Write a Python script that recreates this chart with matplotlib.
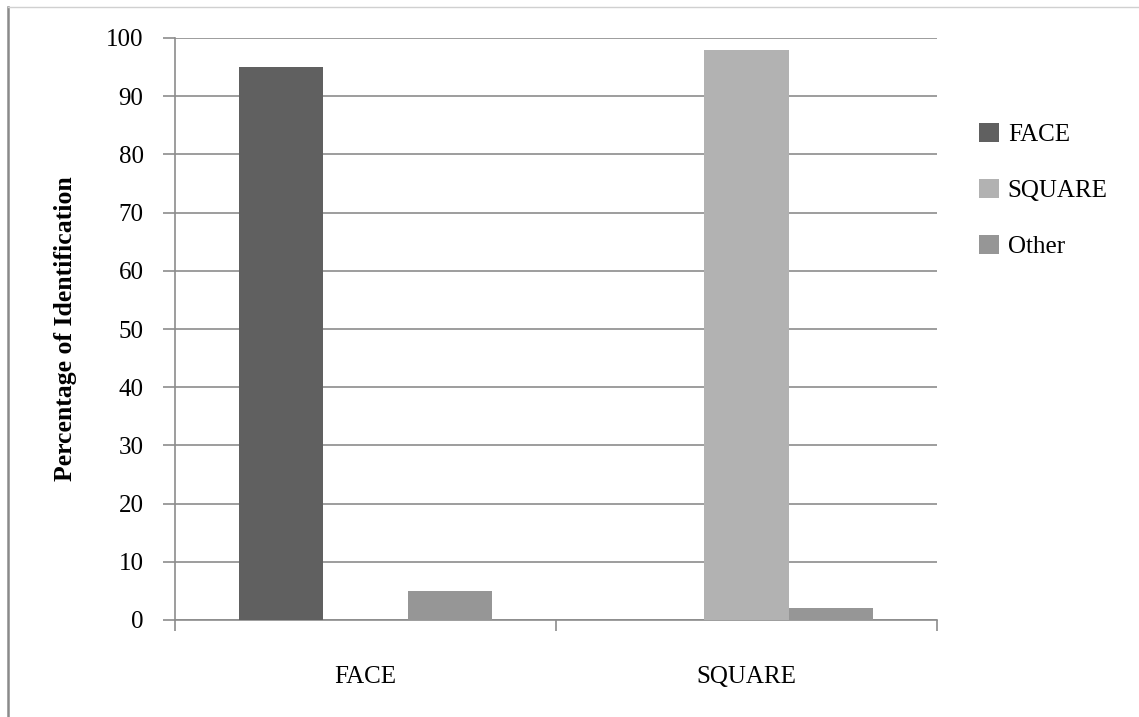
import numpy as np
import matplotlib.pyplot as plt
from matplotlib.lines import Line2D

# datos
categorias = ['FACE', 'SQUARE']
series = ['FACE', 'SQUARE', 'Other']
face_vals = [95, 0]
square_vals = [0, 98]
other_vals = [5, 2]
valores = [face_vals, square_vals, other_vals]
colores = ['#606060', '#b2b2b2', '#969696']

plt.rcParams['font.family'] = ['Liberation Serif', 'DejaVu Serif']

fig = plt.figure(figsize=(11.39, 7.17), dpi=100)
ax = fig.add_axes([175/1139, 1 - 620/717, (937-175)/1139, (620-38)/717])

x = np.arange(len(categorias))
ancho = 0.222
for i, (nombre, vals) in enumerate(zip(series, valores)):
    ax.bar(x + (i - 1)*ancho, vals, ancho, color=colores[i], label=nombre, zorder=3)

ax.set_xlim(-0.5, 1.5)
ax.set_ylim(0, 100)
ax.set_yticks(range(0, 101, 10))
ax.yaxis.grid(True, color='#8c8c8c', linewidth=1.2, zorder=0)
ax.set_xticks(x)
ax.set_xticklabels(categorias, fontsize=18)
ax.tick_params(axis='x', length=0, pad=33)
ax.set_xticks([-0.5, 0.5, 1.5], minor=True)
ax.tick_params(axis='x', which='minor', length=8, color='#8c8c8c', width=1.2)
ax.tick_params(axis='y', length=8.6, color='#8c8c8c', width=1.2, labelsize=18, pad=14)

for s in ['top', 'right']:
    ax.spines[s].set_visible(False)
for s in ['left', 'bottom']:
    ax.spines[s].set_color('#8c8c8c')
    ax.spines[s].set_linewidth(1.2)

ax.set_ylabel('Percentage of Identification', fontsize=18.5, fontweight='bold')
ax.yaxis.set_label_coords(-0.128, 0.5)

ax.legend(loc='upper left', bbox_to_anchor=(969/1139, 1 - 113/717), bbox_transform=fig.transFigure,
          frameon=False, fontsize=18, handlelength=0.8, handleheight=0.8,
          labelspacing=1.3, handletextpad=0.35, borderaxespad=0)

# marco de la imagen
fig.add_artist(Line2D([8/1139, 8/1139], [0, 1 - 7/717], transform=fig.transFigure, color='#8a8a8a', linewidth=1.8))
fig.add_artist(Line2D([8/1139, 1], [1 - 7/717, 1 - 7/717], transform=fig.transFigure, color='#d0d0d0', linewidth=1))

plt.savefig('out.png', dpi=100)
